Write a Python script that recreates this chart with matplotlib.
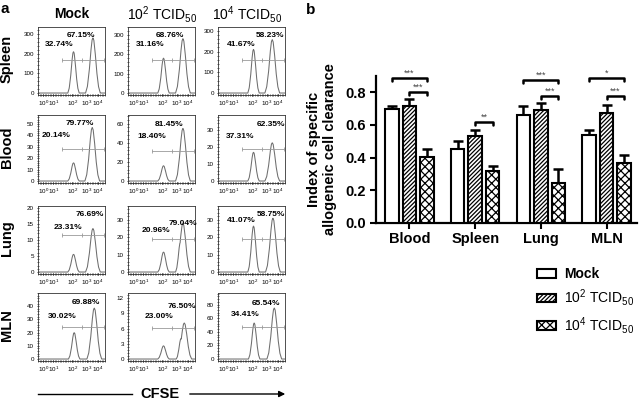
import numpy as np
import matplotlib
matplotlib.use('Agg')
import matplotlib.pyplot as plt
from matplotlib.patches import Patch, FancyArrowPatch
from matplotlib.lines import Line2D
from matplotlib.ticker import MultipleLocator

plt.rcParams['font.family'] = ['Liberation Sans', 'DejaVu Sans']
plt.rcParams['mathtext.fontset'] = 'custom'
plt.rcParams['mathtext.rm'] = 'Liberation Sans'
plt.rcParams['mathtext.bf'] = 'Liberation Sans:bold'
plt.rcParams['mathtext.it'] = 'Liberation Sans:italic'
plt.rcParams['hatch.linewidth'] = 0.9

# ---------------- panel a data ----------------
tissues = ['Spleen', 'Blood', 'Lung', 'MLN']
doses = ['Mock', r'$10^{2}$ TCID$_{50}$', r'$10^{4}$ TCID$_{50}$']
cfse_tick_labels = [r'$10^0$', r'$10^1$', r'$10^2$', r'$10^3$', r'$10^4$']

# row-major order: Spleen(Mock,1e2,1e4), Blood(...), Lung(...), MLN(...)
hist_ytick_step = [100, 100, 100, 10, 20, 10, 5, 10, 10, 10, 3, 20]
hist_ytick_max = [300, 300, 300, 50, 60, 30, 20, 30, 30, 40, 12, 80]
hist_ytop = [335, 340, 319, 58, 69, 39, 20.5, 38, 38, 50, 13, 97]
low_peak_pos = [0.53, 0.53, 0.53, 0.53, 0.53, 0.53, 0.53, 0.53, 0.53, 0.54, 0.53, 0.54]
low_peak_height = [210, 180, 211, 16, 16, 17, 5.5, 11.5, 26.5, 20, 2.6, 53]
high_peak_pos = [0.82, 0.82, 0.81, 0.81, 0.82, 0.81, 0.82, 0.82, 0.82, 0.84, 0.84, 0.84]
high_peak_height = [280, 280, 258, 47, 55, 22.6, 13.5, 28, 31, 38.6, 7.1, 75]
shoulder_pos = [0.78, 0.78, 0.78, 0.78, 0.78, 0.78, 0.78, 0.78, 0.78, 0.78, 0.79, 0.78]
shoulder_height = [0, 0, 0, 0, 0, 0, 0, 17, 0, 0, 4.0, 0]
gate_y = [170, 170, 160, 28, 31, 19, 11.4, 19, 19, 24, 6.2, 47]
pct_high = ['67.15%', '68.76%', '58.23%', '79.77%', '81.45%', '62.35%',
            '76.69%', '79.04%', '58.75%', '69.88%', '76.50%', '65.54%']
pct_low = ['32.74%', '31.16%', '41.67%', '20.14%', '18.40%', '37.31%',
           '23.31%', '20.96%', '41.07%', '30.02%', '23.00%', '34.41%']

# ---------------- panel b data ----------------
organs = ['Blood', 'Spleen', 'Lung', 'MLN']
mock_mean = [0.700, 0.454, 0.663, 0.541]
mock_sem = [0.015, 0.045, 0.050, 0.027]
low_mean = [0.716, 0.529, 0.692, 0.675]
low_sem = [0.040, 0.040, 0.045, 0.050]
high_mean = [0.405, 0.317, 0.246, 0.364]
high_sem = [0.045, 0.030, 0.083, 0.050]
sig_organ = [0, 0, 1, 2, 2, 3, 3]
sig_from = [0, 1, 1, 0, 1, 0, 1]
sig_to = [2, 2, 2, 2, 2, 2, 2]
sig_y = [0.885, 0.800, 0.615, 0.875, 0.775, 0.885, 0.775]
sig_text = ['***', '***', '**', '***', '***', '*', '***']

# ---------------- layout ----------------
W, H = 643, 401
fig = plt.figure(figsize=(W / 100, H / 100), dpi=100)


def fx(x):
    return x / W


def fy(y):
    return 1 - y / H


col_left = [38, 128, 218]
row_top = [27, 115, 206, 293]
pw, ph = 67, 68
cfse_tick_pos = [0.08, 0.23, 0.51, 0.73, 0.89]
pct_high_xy = [(0.64, 0.88), (0.62, 0.88), (0.78, 0.88),
               (0.62, 0.88), (0.61, 0.86), (0.79, 0.86),
               (0.78, 0.87), (0.82, 0.74), (0.79, 0.87),
               (0.71, 0.86), (0.80, 0.80), (0.71, 0.85)]
pct_low_xy = [(0.32, 0.75), (0.33, 0.75), (0.35, 0.75),
              (0.27, 0.70), (0.35, 0.69), (0.33, 0.69),
              (0.45, 0.68), (0.42, 0.64), (0.34, 0.79),
              (0.36, 0.65), (0.47, 0.66), (0.40, 0.68)]

# peak template (drawing style only): offsets in half-widths and relative heights
tmpl_off = np.array([-1.0, -0.75, -0.5, -0.3, -0.12, 0.0, 0.12, 0.3, 0.5, 0.75, 1.0])
tmpl_rel = np.array([0.0, 0.12, 0.4, 0.74, 0.96, 1.0, 0.96, 0.74, 0.4, 0.12, 0.0])
xgrid = np.linspace(0, 1, 500)


def peak(center, height, half):
    return np.interp(xgrid, center + tmpl_off * half, tmpl_rel * height, left=0, right=0)


for r in range(4):
    for c in range(3):
        k = r * 3 + c
        ax = fig.add_axes([fx(col_left[c]), fy(row_top[r] + ph), pw / W, ph / H])
        ytop = hist_ytop[k]
        trace = (peak(low_peak_pos[k], low_peak_height[k], 0.085)
                 + np.maximum(peak(high_peak_pos[k], high_peak_height[k], 0.11),
                              peak(shoulder_pos[k], shoulder_height[k], 0.07)))
        ax.plot(xgrid, trace, color='#6e6e6e', lw=0.75)
        gx = [0.36, 0.66, 0.98]
        ax.plot([gx[0], gx[2]], [gate_y[k]] * 2, color='#9a9a9a', lw=0.6)
        ax.plot(gx, [gate_y[k]] * 3, ls='none', marker='|', ms=2.5, mew=0.6, color='#9a9a9a')
        ax.set_xlim(0, 1)
        ax.set_ylim(-0.03 * ytop, ytop)
        ax.set_yticks(np.arange(0, hist_ytick_max[k] + 0.001, hist_ytick_step[k]))
        ax.yaxis.set_minor_locator(MultipleLocator(hist_ytick_step[k] / 5))
        ax.set_xticks(cfse_tick_pos)
        ax.set_xticklabels(cfse_tick_labels)
        ax.xaxis.set_minor_locator(MultipleLocator(0.025))
        ax.tick_params(labelsize=4.5, length=2, width=0.5, pad=2, direction='inout')
        ax.tick_params(which='minor', length=1.2, width=0.4, direction='inout')
        for s in ax.spines.values():
            s.set_linewidth(0.6)
            s.set_color('#333333')
        hx, hy = pct_high_xy[k]
        lx, ly = pct_low_xy[k]
        ax.text(hx, hy, pct_high[k], transform=ax.transAxes, ha='center', va='center',
                fontsize=6, fontweight='bold')
        ax.text(lx, ly, pct_low[k], transform=ax.transAxes, ha='center', va='center',
                fontsize=6, fontweight='bold')

# row / column labels
for r, t in enumerate(tissues):
    fig.text(fx(7), fy(row_top[r] + ph / 2 - 2), t, rotation=90, ha='center', va='center',
             fontsize=10.5, fontweight='bold')
col_centers = [72, 162, 247]
for c, d in enumerate(doses):
    fig.text(fx(col_centers[c]), fy(14), d, ha='center', va='center', fontsize=10,
             fontweight='bold' if c == 0 else 'normal')
fig.text(fx(5), fy(9), 'a', ha='center', va='center', fontsize=11, fontweight='bold')
fig.text(fx(311), fy(10), 'b', ha='center', va='center', fontsize=11, fontweight='bold')

# CFSE arrow
fig.add_artist(Line2D([fx(38), fx(132)], [fy(394), fy(394)], color='black', lw=1.0,
                      transform=fig.transFigure))
fig.text(fx(160), fy(394), 'CFSE', ha='center', va='center', fontsize=10.5, fontweight='bold')
fig.add_artist(FancyArrowPatch((fx(187), fy(394)), (fx(288), fy(394)),
                               transform=fig.transFigure, arrowstyle='-|>',
                               mutation_scale=9, color='black', lw=1.0))

# ---------------- panel b ----------------
axb = fig.add_axes([fx(375.7), fy(222.7), (637 - 375.7) / W, (222.7 - 76) / H])
x = np.arange(len(organs))
off, bw = 0.266, 0.205
means = [mock_mean, low_mean, high_mean]
sems = [mock_sem, low_sem, high_sem]
hatches = [None, '////////', 'xxxx']
for j in range(3):
    xs = x + (j - 1) * off
    axb.errorbar(xs, means[j], yerr=[np.zeros(4), sems[j]], fmt='none', ecolor='black',
                 elinewidth=1.8, capsize=3.5, capthick=1.8, zorder=2)
    axb.bar(xs, means[j], bw, facecolor='white', edgecolor='black', linewidth=1.5,
            hatch=hatches[j], zorder=3)

for i in range(len(sig_text)):
    x0 = sig_organ[i] + (sig_from[i] - 1) * off
    x1 = sig_organ[i] + (sig_to[i] - 1) * off
    y = sig_y[i]
    axb.plot([x0, x0, x1, x1], [y - 0.018, y, y, y - 0.018], color='black', lw=1.8,
             solid_joinstyle='round', solid_capstyle='round', clip_on=False, zorder=4)
    axb.text((x0 + x1) / 2, y + 0.003, sig_text[i], ha='center', va='bottom', fontsize=6.5,
             color='#444444', clip_on=False)

axb.set_xlim(-0.514, 3.463)
axb.set_ylim(0, 0.9)
axb.set_yticks([0.0, 0.2, 0.4, 0.6, 0.8])
axb.set_yticklabels(['0.0', '0.2', '0.4', '0.6', '0.8'])
axb.set_xticks(x)
axb.set_xticklabels(organs)
axb.spines['top'].set_visible(False)
axb.spines['right'].set_visible(False)
axb.spines['left'].set_linewidth(1.6)
axb.spines['bottom'].set_linewidth(1.6)
axb.tick_params(axis='both', width=1.5, length=4, labelsize=10.5, pad=3)
for lab in axb.get_xticklabels() + axb.get_yticklabels():
    lab.set_fontweight('bold')
fig.text(fx(322), fy(149.5), 'Index of specific\nallogeneic cell clearance', rotation=90,
         ha='center', va='center', fontsize=10.5, fontweight='bold', multialignment='center',
         linespacing=1.1)

handles = [Patch(facecolor='white', edgecolor='black', lw=1.5, hatch=h) for h in hatches]
leg = fig.legend(handles, ['Mock', r'$10^{2}$ TCID$_{50}$', r'$10^{4}$ TCID$_{50}$'],
                 loc='upper left', bbox_to_anchor=(fx(537), fy(267)), frameon=False,
                 fontsize=10, handlelength=1.35, handleheight=0.6, handletextpad=0.6,
                 labelspacing=0.45, borderaxespad=0, borderpad=0)
leg.get_texts()[0].set_fontweight('bold')

fig.savefig('out.png', dpi=100)
